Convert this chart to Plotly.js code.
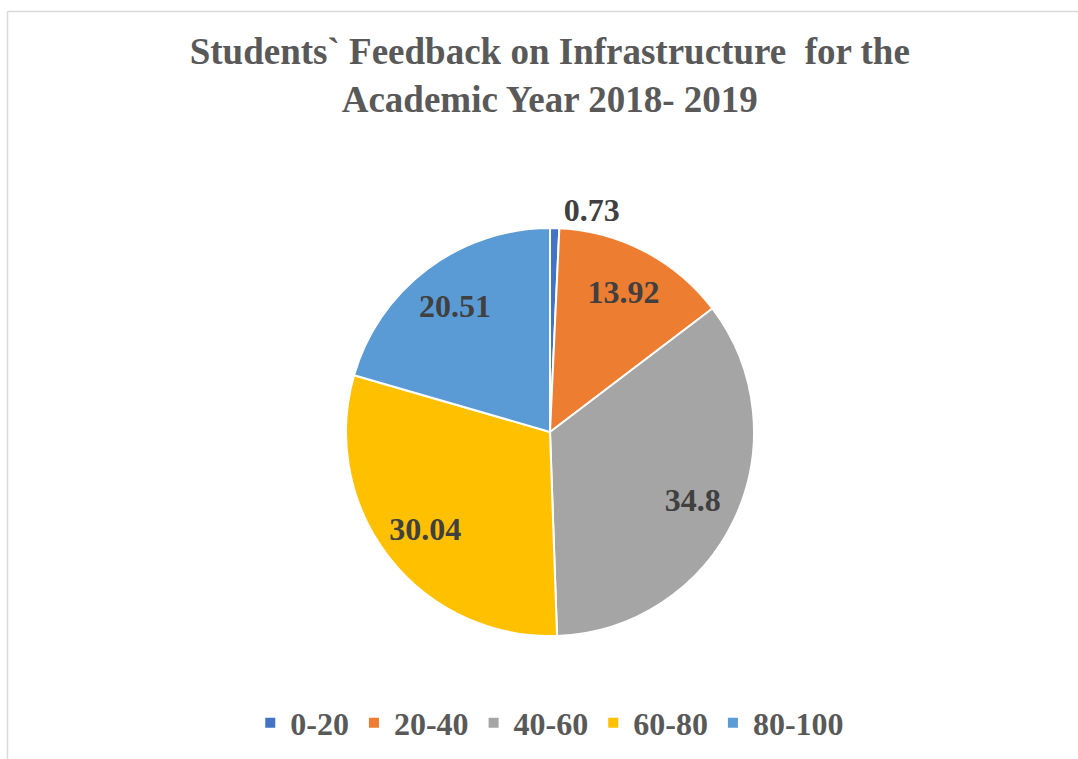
<!DOCTYPE html>
<html>
<head>
<meta charset="utf-8">
<script src="https://cdn.plot.ly/plotly-3.0.1.min.js"></script>
<style>html,body{margin:0;padding:0;background:#fff;}#chart{width:1078px;height:759px;}</style>
</head>
<body>
<div id="chart"></div>
<script>
const categories = ['0-20', '20-40', '40-60', '60-80', '80-100'];
const values = [0.73, 13.92, 34.8, 30.04, 20.51];
const colors = ['#4472C4', '#ED7D31', '#A5A5A5', '#FFC000', '#5B9BD5'];
const textPositions = ['outside', 'inside', 'inside', 'inside', 'inside'];
const chartTitle = 'Students` Feedback on Infrastructure  for the<br>Academic Year 2018- 2019';

const W = 1078, H = 759;
const cx = 550, cy = 432, r = 204;
const serif = '"Liberation Serif", "Times New Roman", serif';
const dom = {
  x: [(cx - r) / W, (cx + r) / W],
  y: [(H - cy - r) / H, (H - cy + r) / H]
};
const labelFont = { family: serif, size: 32, color: '#404040', weight: 'bold' };

// full pie: the slices and the legend
const basePie = {
  type: 'pie',
  labels: categories,
  values: values,
  sort: false,
  direction: 'clockwise',
  rotation: 0,
  textinfo: 'none',
  marker: { colors: colors, line: { color: '#FFFFFF', width: 2 } },
  domain: dom,
  hoverinfo: 'none'
};

// invisible ring with the same slices, so the value labels sit further out like the original
const labelRing = {
  type: 'pie',
  labels: categories,
  values: values,
  sort: false,
  direction: 'clockwise',
  rotation: 0,
  hole: 0.55,
  textinfo: 'value',
  textposition: textPositions,
  insidetextorientation: 'horizontal',
  marker: { colors: categories.map(() => 'rgba(0,0,0,0)'), line: { width: 0 } },
  insidetextfont: labelFont,
  outsidetextfont: labelFont,
  domain: dom,
  showlegend: false,
  hoverinfo: 'none'
};

const layout = {
  width: W,
  height: H,
  margin: { l: 0, r: 0, t: 0, b: 0 },
  paper_bgcolor: '#FFFFFF',
  title: {
    text: chartTitle,
    font: { family: serif, size: 37, color: '#595959', weight: 'bold' },
    x: 0.51, xanchor: 'center',
    xref: 'paper',
    y: 1 - 64 / H, yanchor: 'top', yref: 'container'
  },
  showlegend: true,
  legend: {
    orientation: 'h',
    x: 0.51, xanchor: 'center',
    y: (H - 723) / H, yanchor: 'middle',
    font: { family: serif, size: 32, color: '#595959', weight: 'bold' },
    itemwidth: 30,
    traceorder: 'normal'
  },
  shapes: [
    { type: 'line', xref: 'paper', yref: 'paper', x0: 7.5 / W, x1: 1, y0: 1 - 11.5 / H, y1: 1 - 11.5 / H, line: { color: '#D9D9D9', width: 1.5 } },
    { type: 'line', xref: 'paper', yref: 'paper', x0: 7.5 / W, x1: 7.5 / W, y0: 0, y1: 1 - 11.5 / H, line: { color: '#D9D9D9', width: 1.5 } }
  ]
};

Plotly.newPlot('chart', [basePie, labelRing], layout, { displayModeBar: false, staticPlot: true });
</script>
</body>
</html>
